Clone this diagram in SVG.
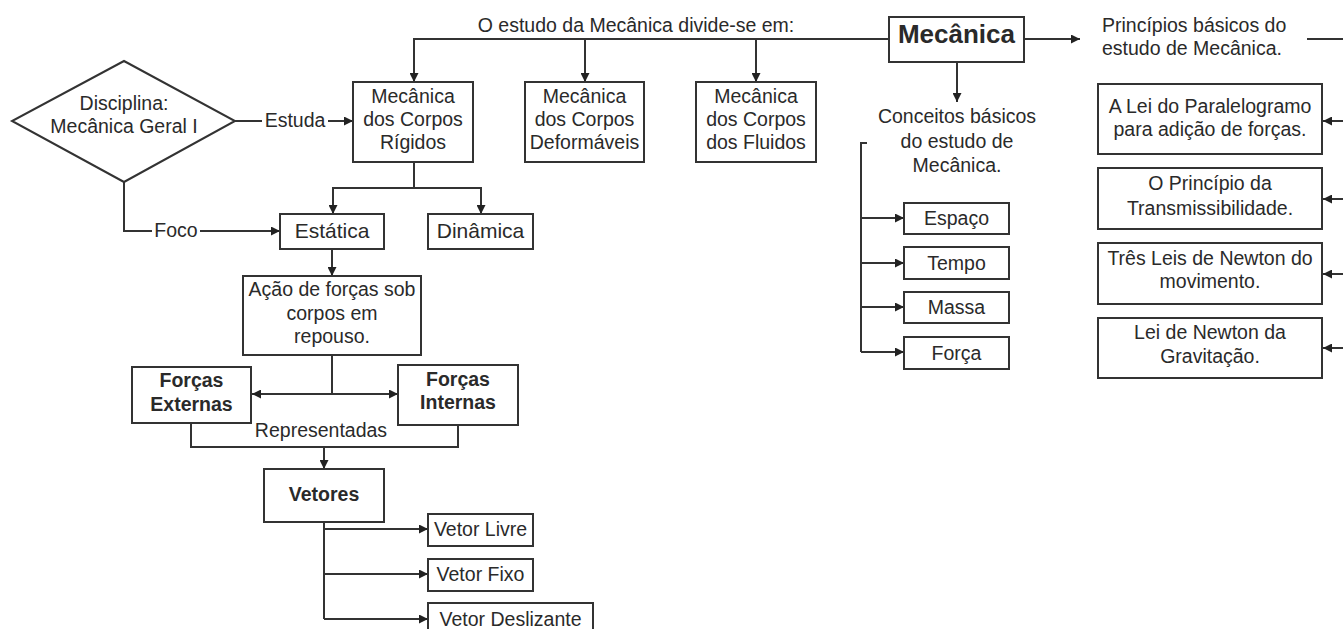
<svg xmlns="http://www.w3.org/2000/svg" width="1343" height="629" viewBox="0 0 1343 629">
<style>
.box{fill:#fff;stroke:#333;stroke-width:2}
.ln{fill:none;stroke:#333;stroke-width:2}
.t{font-family:"Liberation Sans",Arial,sans-serif;font-size:19.5px;fill:#2a2a2a;text-anchor:middle}
.b{font-weight:bold}
.l{text-anchor:start}
</style>
<defs>
<marker id="ar" viewBox="0 0 10 10" refX="10" refY="5" markerWidth="11" markerHeight="9" markerUnits="userSpaceOnUse" orient="auto">
<path d="M0,0 L10,5 L0,10 z" fill="#222"/>
</marker>
</defs>
<rect width="1343" height="629" fill="#fff"/>

<g id="connectors">
<path class="ln" d="M889,39 H414 V82" marker-end="url(#ar)"/>
<path class="ln" d="M585,39 V82" marker-end="url(#ar)"/>
<path class="ln" d="M756,39 V82" marker-end="url(#ar)"/>
<path class="ln" d="M1024,39 H1080" marker-end="url(#ar)"/>
<path class="ln" d="M957,62 V102" marker-end="url(#ar)"/>
<path class="ln" d="M1307,39 H1343"/>
<path class="ln" d="M1343,121 H1323" marker-end="url(#ar)"/>
<path class="ln" d="M1343,199 H1323" marker-end="url(#ar)"/>
<path class="ln" d="M1343,274 H1323" marker-end="url(#ar)"/>
<path class="ln" d="M1343,348 H1323" marker-end="url(#ar)"/>
<path class="ln" d="M867,143 H861 V352"/>
<path class="ln" d="M861,218 H904" marker-end="url(#ar)"/>
<path class="ln" d="M861,263 H904" marker-end="url(#ar)"/>
<path class="ln" d="M861,307 H904" marker-end="url(#ar)"/>
<path class="ln" d="M861,352 H904" marker-end="url(#ar)"/>
<path class="ln" d="M235,121 H262"/>
<path class="ln" d="M328,121 H353" marker-end="url(#ar)"/>
<path class="ln" d="M124,182 V231 H152"/>
<path class="ln" d="M200,231 H280" marker-end="url(#ar)"/>
<path class="ln" d="M414,162 V188 H333 V214" marker-end="url(#ar)"/>
<path class="ln" d="M414,188 H481 V214" marker-end="url(#ar)"/>
<path class="ln" d="M332,249 V276" marker-end="url(#ar)"/>
<path class="ln" d="M332,355 V394"/>
<path class="ln" d="M332,394 H252" marker-end="url(#ar)"/>
<path class="ln" d="M332,394 H398" marker-end="url(#ar)"/>
<path class="ln" d="M191,423 V447 H458 V425"/>
<path class="ln" d="M324,447 V469" marker-end="url(#ar)"/>
<path class="ln" d="M324,522 V619"/>
<path class="ln" d="M324,529 H428" marker-end="url(#ar)"/>
<path class="ln" d="M324,574 H428" marker-end="url(#ar)"/>
<path class="ln" d="M324,619 H428" marker-end="url(#ar)"/>
<text class="t" x="295" y="127">Estuda</text>
<text class="t" x="176" y="237">Foco</text>
<text class="t" x="321" y="437">Representadas</text>
<text class="t" x="636" y="32">O estudo da Mecânica divide-se em:</text>
</g>

<g id="disciplina">
<polygon class="box" points="124,61 235,121 124,182 12,121"/>
<text class="t" x="124" y="110">Disciplina:</text>
<text class="t" x="124" y="133">Mecânica Geral I</text>
</g>

<g id="mecanica">
<rect class="box" x="889" y="17" width="135" height="45"/>
<text class="t b" x="956.5" y="43" style="font-size:26px">Mecânica</text>
</g>

<g id="rigidos">
<rect class="box" x="353" y="82" width="120" height="80"/>
<text class="t" x="413" y="103">Mecânica</text>
<text class="t" x="413" y="126">dos Corpos</text>
<text class="t" x="413" y="149">Rígidos</text>
</g>

<g id="deformaveis">
<rect class="box" x="525" y="82" width="119" height="80"/>
<text class="t" x="584.5" y="103">Mecânica</text>
<text class="t" x="584.5" y="126">dos Corpos</text>
<text class="t" x="584.5" y="149">Deformáveis</text>
</g>

<g id="fluidos">
<rect class="box" x="696" y="82" width="120" height="80"/>
<text class="t" x="756" y="103">Mecânica</text>
<text class="t" x="756" y="126">dos Corpos</text>
<text class="t" x="756" y="149">dos Fluidos</text>
</g>

<g id="conceitos">
<text class="t" x="957" y="123">Conceitos básicos</text>
<text class="t" x="957" y="147.5">do estudo de</text>
<text class="t" x="957" y="172">Mecânica.</text>
</g>

<g id="principios">
<text class="t l" x="1102" y="32">Princípios básicos do</text>
<text class="t l" x="1102" y="55">estudo de Mecânica.</text>
</g>

<g id="espaco"><rect class="box" x="904" y="203" width="105" height="31"/><text class="t" x="956.5" y="225">Espaço</text></g>
<g id="tempo"><rect class="box" x="904" y="247" width="105" height="32"/><text class="t" x="956.5" y="270">Tempo</text></g>
<g id="massa"><rect class="box" x="904" y="292" width="105" height="31"/><text class="t" x="956.5" y="314">Massa</text></g>
<g id="forca"><rect class="box" x="904" y="337" width="105" height="32"/><text class="t" x="956.5" y="360">Força</text></g>

<g id="paralelogramo">
<rect class="box" x="1098" y="84" width="224" height="70"/>
<text class="t" x="1210" y="113">A Lei do Paralelogramo</text>
<text class="t" x="1210" y="136">para adição de forças.</text>
</g>
<g id="transmissibilidade">
<rect class="box" x="1098" y="168" width="224" height="61"/>
<text class="t" x="1210" y="190">O Princípio da</text>
<text class="t" x="1210" y="215">Transmissibilidade.</text>
</g>
<g id="newton">
<rect class="box" x="1098" y="243" width="224" height="61"/>
<text class="t" x="1210" y="265">Três Leis de Newton do</text>
<text class="t" x="1210" y="288">movimento.</text>
</g>
<g id="gravitacao">
<rect class="box" x="1098" y="318" width="224" height="60"/>
<text class="t" x="1210" y="339">Lei de Newton da</text>
<text class="t" x="1210" y="363">Gravitação.</text>
</g>

<g id="estatica"><rect class="box" x="280" y="214" width="104" height="35"/><text class="t" x="332" y="238" style="font-size:21px">Estática</text></g>
<g id="dinamica"><rect class="box" x="428" y="214" width="105" height="35"/><text class="t" x="480.5" y="238" style="font-size:21px">Dinâmica</text></g>

<g id="acao">
<rect class="box" x="243" y="276" width="178" height="79"/>
<text class="t" x="332" y="296">Ação de forças sob</text>
<text class="t" x="332" y="320">corpos em</text>
<text class="t" x="332" y="343">repouso.</text>
</g>

<g id="externas">
<rect class="box" x="132" y="367" width="119" height="56"/>
<text class="t b" x="191.5" y="387">Forças</text>
<text class="t b" x="191.5" y="411">Externas</text>
</g>
<g id="internas">
<rect class="box" x="398" y="365" width="120" height="60"/>
<text class="t b" x="458" y="386">Forças</text>
<text class="t b" x="458" y="409">Internas</text>
</g>

<g id="vetores"><rect class="box" x="264" y="469" width="120" height="53"/><text class="t b" x="324" y="501">Vetores</text></g>
<g id="livre"><rect class="box" x="428" y="514" width="105" height="32"/><text class="t" x="480.5" y="536">Vetor Livre</text></g>
<g id="fixo"><rect class="box" x="428" y="559" width="105" height="32"/><text class="t" x="480.5" y="581">Vetor Fixo</text></g>
<g id="deslizante"><rect class="box" x="428" y="603" width="165" height="34"/><text class="t" x="510.5" y="626">Vetor Deslizante</text></g>
</svg>
